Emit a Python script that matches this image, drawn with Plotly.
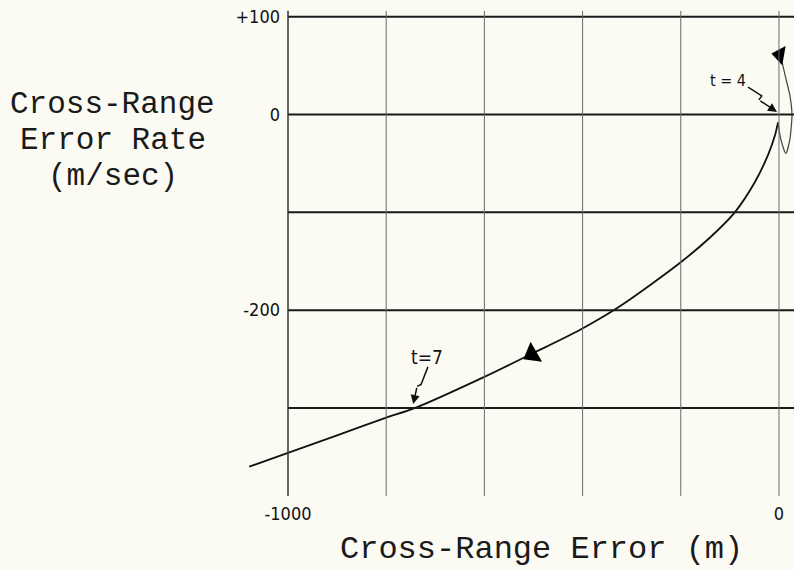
import plotly.graph_objects as go

# ---- data ----
# main trajectory: cross-range error (m) vs cross-range error rate (m/sec)
traj_x = [-1079, -1000, -900, -800, -741, -599, -505, -405, -324, -200, -141, -90, -49, -22, -8, -2]
traj_y = [-360, -346, -328, -310, -300, -268, -245, -220, -196, -151, -126, -100, -69, -41, -21, -8]
# small loop near the origin
loop_x = [-2, 4, 14, 22, 26.5, 22, 14, 6, 2]
loop_y = [-8, -26, -40, -26, -0.5, 20, 37, 54, 62]
# direction arrowheads on the trajectory
arrow_x = [-503, 1.6]
arrow_y = [-245, 61]
arrow_angle = [240, 280]
arrow_size = [20, 17]

# grid
h_grid = [100, 0, -100, -200, -300]
v_grid = [-1000, -800, -600, -400, -200, 0]
grid_x_span = [-1000, 40]
grid_y_span = [-390, 106]

# ticks
y_tickvals = [100, 0, -200]
y_ticktext = ["+100", "0", "-200"]
x_tickvals = [-1000, 0]
x_ticktext = ["-1000", "0"]

# annotations (zigzag leader lines)
t4_label = (-104, 35)
t4_zig_x = [-63, -35, -41]
t4_zig_y = [28, 19, 15]
t4_tip = (-4, 2.6)
t7_label = (-717, -248)
t7_zig_x = [-715, -729, -737]
t7_zig_y = [-258, -276, -278]
t7_tip = (-745, -296)

NARROW = "Liberation Sans Narrow, DejaVu Sans Condensed, Arial Narrow, sans-serif"
MONO = "Liberation Mono, Courier New, DejaVu Sans Mono, monospace"

fig = go.Figure()

shapes = []
for yv in h_grid:
    shapes.append(dict(type="line", xref="x", yref="y", x0=grid_x_span[0], x1=grid_x_span[1],
                       y0=yv, y1=yv, line=dict(color="#1a1a1a", width=2)))
for xv in v_grid:
    shapes.append(dict(type="line", xref="x", yref="y", x0=xv, x1=xv,
                       y0=grid_y_span[0], y1=grid_y_span[1],
                       line=dict(color="#333333" if xv == v_grid[0] else "#6a6a6a",
                                 width=1.5 if xv == v_grid[0] else 1)))

fig.add_trace(go.Scatter(x=traj_x, y=traj_y, mode="lines",
                         line=dict(color="#111111", width=1.8, shape="spline", smoothing=0.8),
                         showlegend=False, hoverinfo="skip"))
fig.add_trace(go.Scatter(x=loop_x, y=loop_y, mode="lines",
                         line=dict(color="#444444", width=1.2, shape="spline", smoothing=0.6),
                         showlegend=False, hoverinfo="skip"))
fig.add_trace(go.Scatter(x=arrow_x, y=arrow_y, mode="markers",
                         marker=dict(symbol="triangle-up", size=arrow_size, angle=arrow_angle,
                                     color="#000000", opacity=1, line=dict(width=0)),
                         showlegend=False, hoverinfo="skip"))
# zigzag leaders
fig.add_trace(go.Scatter(x=t4_zig_x, y=t4_zig_y, mode="lines", line=dict(color="#111111", width=1.5),
                         showlegend=False, hoverinfo="skip"))
fig.add_trace(go.Scatter(x=t7_zig_x, y=t7_zig_y, mode="lines", line=dict(color="#111111", width=1.5),
                         showlegend=False, hoverinfo="skip"))

def title_ann(text, px, py, size):
    return dict(x=px / 794, y=1 - py / 570, xref="paper", yref="paper", text=text,
                showarrow=False, xanchor="center", yanchor="middle",
                font=dict(family=MONO, size=size, color="#1a1a1a"))

annotations = [
    dict(x=t4_label[0], y=t4_label[1], xref="x", yref="y", text="t = 4", showarrow=False,
         font=dict(family=NARROW, size=16, color="#111111")),
    dict(x=t7_label[0], y=t7_label[1], xref="x", yref="y", text="t=7", showarrow=False,
         font=dict(family=NARROW, size=19, color="#111111")),
    dict(x=t4_tip[0], y=t4_tip[1], ax=t4_zig_x[-1], ay=t4_zig_y[-1], xref="x", yref="y",
         axref="x", ayref="y", text="", showarrow=True, arrowhead=2, arrowsize=1.2,
         arrowwidth=1.5, arrowcolor="#111111"),
    dict(x=t7_tip[0], y=t7_tip[1], ax=t7_zig_x[-1], ay=t7_zig_y[-1], xref="x", yref="y",
         axref="x", ayref="y", text="", showarrow=True, arrowhead=2, arrowsize=1.2,
         arrowwidth=1.5, arrowcolor="#111111"),
    # axis titles
    title_ann("Cross-Range", 113, 104, 31),
    title_ann("Error Rate", 113, 140, 31),
    title_ann("(m/sec)", 113, 176, 31),
    title_ann("Cross-Range Error (m)", 541, 549, 32),
]

fig.update_layout(
    width=794, height=570,
    margin=dict(l=0, r=0, t=0, b=0),
    paper_bgcolor="#fbfbf4", plot_bgcolor="#fbfbf4",
    shapes=shapes, annotations=annotations, showlegend=False,
    xaxis=dict(range=[-1586.6, 30.6], anchor="free", position=(570 - 495) / 570, side="bottom",
               tickvals=x_tickvals, ticktext=x_ticktext, showgrid=False, zeroline=False,
               showline=False, ticks="", ticklabelstandoff=6, automargin=False,
               tickfont=dict(family=NARROW, size=18, color="#111111")),
    yaxis=dict(range=[-465.7, 117.1], anchor="free", position=288 / 794, side="left",
               tickvals=y_tickvals, ticktext=y_ticktext, showgrid=False, zeroline=False,
               showline=False, ticks="", ticklabelstandoff=8, automargin=False,
               tickfont=dict(family=NARROW, size=18, color="#111111")),
)

fig.write_html("out.html", config={"displayModeBar": False},
               post_script="document.body.style.margin='0';document.body.style.background='#fbfbf4';")
